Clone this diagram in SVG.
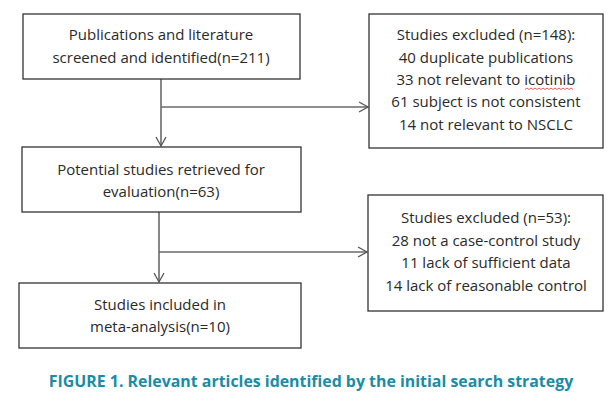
<svg xmlns="http://www.w3.org/2000/svg" width="613" height="403" viewBox="0 0 613 403">
<style>
.box{fill:#fff;stroke:#333;stroke-width:1.3}
.t{font-family:"Open Sans","Liberation Sans",sans-serif;font-size:15px;fill:#2a2a2a;text-anchor:middle}
.ln{fill:none;stroke:#6a6a6a;stroke-width:1.6}
.cap{font-family:"Open Sans","Liberation Sans",sans-serif;font-size:15.9px;font-weight:bold;fill:#1a8ca6;text-anchor:middle}
</style>
<defs>
<marker id="ah" markerWidth="12" markerHeight="12" refX="10" refY="6" orient="auto" markerUnits="userSpaceOnUse">
<path d="M1,1 L10,6 L1,11" fill="none" stroke="#555" stroke-width="1.3"/>
</marker>
</defs>
<rect width="613" height="403" fill="#fff"/>
<g id="connectors">
<line class="ln" x1="161" y1="79" x2="161" y2="146" marker-end="url(#ah)"/>
<line class="ln" x1="161" y1="107" x2="368" y2="107" marker-end="url(#ah)"/>
<line class="ln" x1="159" y1="212" x2="159" y2="282" marker-end="url(#ah)"/>
<line class="ln" x1="159" y1="252" x2="367" y2="252" marker-end="url(#ah)"/>
</g>
<g id="n1">
<rect class="box" x="23" y="14" width="277" height="65"/>
<text class="t" x="161" y="40">Publications and literature</text>
<text class="t" x="161" y="63">screened and identified(n=211)</text>
</g>
<g id="n2">
<rect class="box" x="22" y="147" width="279" height="65"/>
<text class="t" x="161" y="175">Potential studies retrieved for</text>
<text class="t" x="161" y="197">evaluation(n=63)</text>
</g>
<g id="n3">
<rect class="box" x="19" y="283" width="282" height="65"/>
<text class="t" x="160" y="310">Studies included in</text>
<text class="t" x="160" y="332">meta-analysis(n=10)</text>
</g>
<g id="n4">
<rect class="box" x="369" y="14" width="234" height="134"/>
<text class="t" x="486" y="40">Studies excluded (n=148):</text>
<text class="t" x="486" y="63">40 duplicate publications</text>
<text class="t" x="486" y="85">33 not relevant to icotinib</text>
<text class="t" x="486" y="107">61 subject is not consistent</text>
<text class="t" x="486" y="130">14 not relevant to NSCLC</text>
<path d="M525,89.5 l2,-1.5 l2,1.5 l2,-1.5 l2,1.5 l2,-1.5 l2,1.5 l2,-1.5 l2,1.5 l2,-1.5 l2,1.5 l2,-1.5 l2,1.5 l2,-1.5 l2,1.5 l2,-1.5 l2,1.5 l2,-1.5 l2,1.5 l2,-1.5 l2,1.5 l2,-1.5 l2,1.5 l2,-1.5 l2,1.5" fill="none" stroke="#d33" stroke-width="0.8"/>
</g>
<g id="n5">
<rect class="box" x="368" y="195" width="235" height="116"/>
<text class="t" x="486" y="223">Studies excluded (n=53):</text>
<text class="t" x="486" y="246">28 not a case-control study</text>
<text class="t" x="486" y="268">11 lack of sufficient data</text>
<text class="t" x="486" y="291">14 lack of reasonable control</text>
</g>
<text class="cap" x="311" y="387">FIGURE 1. Relevant articles identified by the initial search strategy</text>
</svg>
